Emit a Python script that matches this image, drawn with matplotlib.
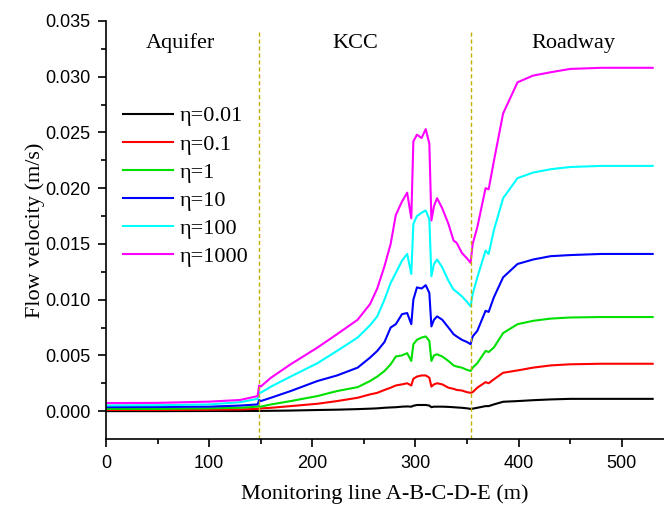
import matplotlib
matplotlib.use("Agg")
import matplotlib.pyplot as plt

# Monitoring positions (m)
x_pos = [0, 50, 100, 130, 147, 148.5, 150, 160, 179, 205, 224, 244, 256, 263, 270,
         276, 281, 287, 292, 296, 298, 301.5, 306, 310, 313.5, 315.5, 318, 321, 326,
         332, 337, 340, 345, 350, 353.5, 355.5, 360, 368, 371, 376, 385, 399, 414,
         431, 450, 480, 530]

v_001 = [0.0, 0.0, 0.00001, 0.00001, 0.00002, 0.00002, 0.00002, 0.00003, 0.00005, 0.0001,
         0.00013, 0.00018, 0.00022, 0.00025, 0.0003, 0.00033, 0.00035, 0.0004, 0.00042, 0.0004,
         0.00048, 0.00055, 0.00055, 0.00055, 0.0005, 0.00035, 0.0004, 0.0004, 0.0004, 0.00038,
         0.00035, 0.00033, 0.0003, 0.00025, 0.0002, 0.00022, 0.0003, 0.00045, 0.00045, 0.0006,
         0.00084, 0.0009, 0.00098, 0.00105, 0.0011, 0.0011, 0.0011]

v_01 = [0.0001, 0.0001, 0.00012, 0.00015, 0.0002, 0.00024, 0.00024, 0.0003, 0.00045, 0.00066,
        0.0009, 0.0012, 0.0015, 0.00164, 0.0019, 0.0021, 0.0023, 0.0024, 0.0025, 0.0023,
        0.0029, 0.0031, 0.0032, 0.0032, 0.0030, 0.0022, 0.0024, 0.0025, 0.0024, 0.0021,
        0.0020, 0.0019, 0.00185, 0.0017, 0.00165, 0.0017, 0.0021, 0.0026, 0.0025, 0.00285,
        0.00344, 0.00365, 0.0039, 0.0041, 0.0042, 0.00425, 0.00425]

v_1 = [0.0002, 0.0002, 0.00025, 0.0003, 0.0004, 0.00045, 0.0004, 0.0006, 0.0009, 0.00135,
       0.0018, 0.00215, 0.0027, 0.0031, 0.0036, 0.0042, 0.0049, 0.0050, 0.0052, 0.0045,
       0.0060, 0.0064, 0.0066, 0.0067, 0.0063, 0.0045, 0.0050, 0.0051, 0.0049, 0.0045,
       0.0041, 0.0040, 0.0039, 0.0037, 0.0036, 0.0039, 0.0043, 0.0054, 0.0053, 0.0057,
       0.0070, 0.0078, 0.0081, 0.0083, 0.0084, 0.00844, 0.00844]

v_10 = [0.00036, 0.00037, 0.0004, 0.0005, 0.0006, 0.0010, 0.0009, 0.0012, 0.0018, 0.0027,
        0.0032, 0.0039, 0.0048, 0.0054, 0.0062, 0.0075, 0.0078, 0.0087, 0.0088, 0.0078,
        0.0100, 0.0111, 0.0110, 0.0113, 0.0106, 0.0076, 0.0082, 0.0085, 0.0082, 0.0075,
        0.0069, 0.0067, 0.0064, 0.0062, 0.0060, 0.0067, 0.0072, 0.0090, 0.0089, 0.0102,
        0.0120, 0.0132, 0.0136, 0.0139, 0.0140, 0.0141, 0.0141]

v_100 = [0.00051, 0.00053, 0.0006, 0.0008, 0.0011, 0.0017, 0.00165, 0.0022, 0.0031, 0.0043,
         0.0054, 0.0066, 0.0077, 0.0085, 0.0100, 0.0115, 0.0124, 0.0135, 0.0141, 0.0123,
         0.0168, 0.0175, 0.0178, 0.0180, 0.0172, 0.0121, 0.0132, 0.0136, 0.0129, 0.0117,
         0.0109, 0.0107, 0.0103, 0.0098, 0.0094, 0.0105, 0.0120, 0.0144, 0.0141, 0.0162,
         0.0191, 0.0209, 0.0214, 0.0217, 0.0219, 0.0220, 0.0220]

v_1000 = [0.00072, 0.00074, 0.00085, 0.0010, 0.00135, 0.0023, 0.0022, 0.0030, 0.0042, 0.0057,
          0.0069, 0.0082, 0.0096, 0.0110, 0.0130, 0.0150, 0.0176, 0.0188, 0.0196, 0.0173,
          0.0242, 0.0248, 0.0245, 0.0253, 0.0240, 0.0171, 0.0184, 0.0191, 0.0182, 0.0168,
          0.0153, 0.0151, 0.0142, 0.0137, 0.0133, 0.0150, 0.0165, 0.0200, 0.0199, 0.0224,
          0.0267, 0.0295, 0.0301, 0.0304, 0.0307, 0.0308, 0.0308]

labels = ["η=0.01", "η=0.1", "η=1", "η=10", "η=100", "η=1000"]
colors = ["#000000", "#ff0000", "#00e000", "#0000ff", "#00ffff", "#ff00ff"]
series = [v_001, v_01, v_1, v_10, v_100, v_1000]

boundaries = [148, 354]
zone_names = ["Aquifer", "KCC", "Roadway"]
zone_x = [72, 242, 453]

serif = "Liberation Serif"
sans = "Liberation Sans"

fig = plt.figure(figsize=(6.64, 5.12), dpi=100)
ax = fig.add_axes([0.1596, 0.1426, 0.8404, 0.8164])

for vals, c, lab in zip(series, colors, labels):
    ax.plot(x_pos, vals, color=c, lw=1.5, label=lab)

for b in boundaries:
    ax.plot([b, b], [-0.0025, 0.0342], color="#c0b000", lw=1.0,
            linestyle=(0, (3, 2)))

for name, zx in zip(zone_names, zone_x):
    ax.text(zx, 0.0330, name, family=serif, fontsize=16, ha="center", va="center")

ax.set_xlim(0, 541)
ax.set_ylim(-0.0025, 0.035)
ax.set_xticks([0, 100, 200, 300, 400, 500])
ax.set_xticks(range(50, 550, 100), minor=True)
yt = [0.000, 0.005, 0.010, 0.015, 0.020, 0.025, 0.030, 0.035]
ax.set_yticks(yt)
ax.set_yticks([0.0025, 0.0075, 0.0125, 0.0175, 0.0225, 0.0275, 0.0325], minor=True)
ax.set_yticklabels([f"{v:.3f}" for v in yt])

for s in ["top", "right"]:
    ax.spines[s].set_visible(False)
for s in ["left", "bottom"]:
    ax.spines[s].set_linewidth(1.2)

ax.tick_params(axis="both", which="major", direction="out", length=5.8, width=1.2,
               labelsize=13, pad=5.5)
ax.tick_params(axis="both", which="minor", direction="out", length=3.5, width=1.2)
for lbl in ax.get_xticklabels() + ax.get_yticklabels():
    lbl.set_family(sans)

ax.set_xlabel("Monitoring line A-B-C-D-E (m)", family=serif, fontsize=16, labelpad=9)
ax.set_ylabel("Flow velocity (m/s)", family=serif, fontsize=16, labelpad=0)

leg = ax.legend(loc="upper left", bbox_to_anchor=(0.03, 0.797), frameon=False,
                prop={"family": serif, "size": 16}, handlelength=2.25,
                handletextpad=0.3, labelspacing=0.34, borderpad=0, borderaxespad=0)

fig.savefig("out.png", dpi=100)
